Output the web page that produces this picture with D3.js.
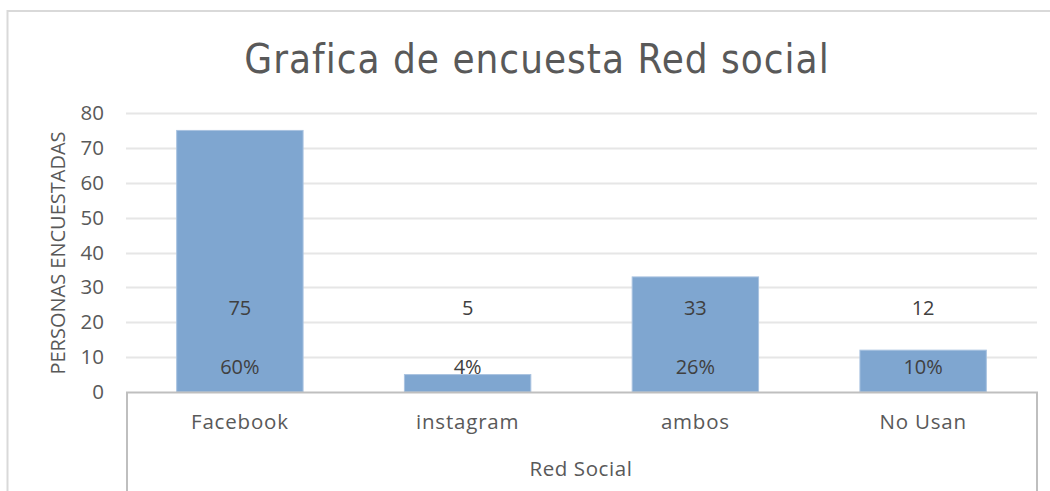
<!DOCTYPE html>
<html><head><meta charset="utf-8">
<script src="https://cdn.jsdelivr.net/npm/d3@7"></script>
<style>html,body{margin:0;padding:0;background:#fff;}svg{display:block;}</style>
</head><body>
<script>
const categories = ["Facebook", "instagram", "ambos", "No Usan"];
const values = [75, 5, 33, 12];
const percents = ["60%", "4%", "26%", "10%"];
const yTicks = [0, 10, 20, 30, 40, 50, 60, 70, 80];
const title = "Grafica de encuesta Red social";
const yTitle = "PERSONAS ENCUESTADAS";
const xTitle = "Red Social";

const W = 1050, H = 491;
const svg = d3.select("body").append("svg").attr("width", W).attr("height", H);
const font = "'Open Sans', sans-serif";

// outer frame
svg.append("path").attr("d", "M7.5,491 L7.5,11 L1050,11")
  .attr("fill", "none").attr("stroke", "#d9d9d9").attr("stroke-width", 2);

const x = d3.scaleBand().domain(categories).range([126, 1037]).paddingInner(0).paddingOuter(0);
const barW = x.bandwidth() * 0.555;
const y = d3.scaleLinear().domain([0, 80]).range([392, 113]);

// gridlines
svg.append("g").selectAll("line").data(yTicks.filter(d => d > 0)).join("line")
  .attr("x1", 126).attr("x2", 1037)
  .attr("y1", d => Math.round(y(d)) + 0.5).attr("y2", d => Math.round(y(d)) + 0.5)
  .attr("stroke", "#e6e6e6").attr("stroke-width", 2);

// y axis labels
const yAxis = d3.axisLeft(y).tickValues(yTicks).tickSize(0).tickPadding(0);
const ya = svg.append("g").attr("transform", "translate(104,0)").call(yAxis);
ya.select(".domain").remove();
ya.selectAll("text").attr("font-family", font).attr("font-size", 20.5).attr("fill", "#595959");

// bars
svg.append("g").selectAll("rect").data(values).join("rect")
  .attr("x", (d, i) => x(categories[i]) + (x.bandwidth() - barW) / 2)
  .attr("width", barW)
  .attr("y", d => y(d))
  .attr("height", d => y(0) - y(d))
  .attr("fill", "#7fa6d0")
  .attr("stroke", "#a9c3e0").attr("stroke-width", 1);

// data labels
svg.append("g").selectAll("text").data(values).join("text")
  .attr("x", (d, i) => x(categories[i]) + x.bandwidth() / 2)
  .attr("y", y(24.1))
  .attr("dy", "0.35em")
  .attr("text-anchor", "middle")
  .attr("font-family", font).attr("font-size", 20).attr("fill", "#404040")
  .text(d => d);
svg.append("g").selectAll("text").data(percents).join("text")
  .attr("x", (d, i) => x(categories[i]) + x.bandwidth() / 2)
  .attr("y", y(7.2))
  .attr("dy", "0.35em")
  .attr("text-anchor", "middle")
  .attr("font-family", font).attr("font-size", 20).attr("fill", "#404040")
  .text(d => d);

// x axis frame
svg.append("path").attr("d", "M127,491 L127,392.5 L1037,392.5 L1037,491")
  .attr("fill", "none").attr("stroke", "#bfbfbf").attr("stroke-width", 2);

// category labels
const xAxis = d3.axisBottom(x).tickSize(0).tickPadding(0);
const xa = svg.append("g").attr("transform", "translate(0,414)").call(xAxis);
xa.select(".domain").remove();
xa.selectAll("text").attr("font-family", font).attr("font-size", 20.5)
  .attr("letter-spacing", 0.8).attr("fill", "#595959");

// axis titles
svg.append("text").attr("x", 581).attr("y", 476).attr("text-anchor", "middle")
  .attr("font-family", font).attr("font-size", 20.5).attr("letter-spacing", 0.6)
  .attr("fill", "#595959").text(xTitle);
svg.append("text").attr("transform", "translate(65,253) rotate(-90)").attr("text-anchor", "middle")
  .attr("font-family", font).attr("font-size", 20).attr("fill", "#595959").text(yTitle);

// title
svg.append("text").attr("x", 537).attr("y", 73).attr("text-anchor", "middle")
  .attr("font-family", "'DejaVu Sans Condensed', 'DejaVu Sans', sans-serif")
  .attr("font-stretch", "condensed")
  .attr("letter-spacing", 1)
  .attr("font-size", 40).attr("fill", "#595959").text(title);
</script>
</body></html>
